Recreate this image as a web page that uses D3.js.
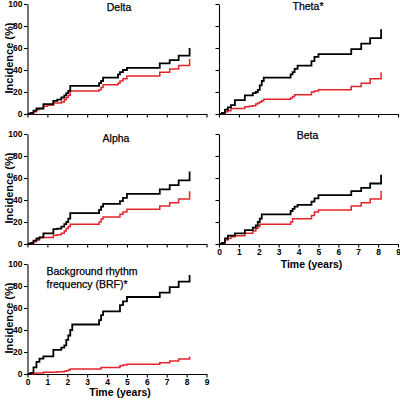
<!DOCTYPE html>
<html><head><meta charset="utf-8">
<script src="https://cdn.jsdelivr.net/npm/d3@7"></script>
<style>
html,body{margin:0;padding:0;background:#fff;}
svg{display:block;font-family:"Liberation Sans",Arial,sans-serif;}
</style></head>
<body>
<svg id="c" width="400" height="400"></svg>
<script>
// Shared event-time grid (years)
const times = [0, 0.15, 0.3, 0.45, 0.6, 0.8, 1.0, 1.3, 1.5, 1.7, 1.85, 1.95, 2.05, 2.15, 2.25, 3.6, 3.7, 3.8, 3.95, 4.55, 4.65, 4.8, 5.0, 6.65, 7.15, 7.6, 8.15];

// Cumulative incidence (%) — black and red groups
const deltaBlack = [0, 1, 3, 5, 5, 9, 9, 12, 13, 15, 17, 19, 21, 25.5, 25.5, 28, 30, 33, 33, 36, 38, 40, 42, 46, 49, 53, 60];
const deltaRed   = [0, 0.5, 2, 4, 5, 7, 8, 10, 10, 11, 13, 15, 17, 21, 21, 22, 24, 26.5, 26.5, 28, 30, 32, 34.5, 38, 41, 44, 50];
const thetaBlack = [0, 1, 4, 6, 8, 12.7, 12.7, 17, 17, 19, 20, 22, 26, 30, 33, 36, 38, 41, 44, 44, 48, 52, 54.5, 59, 64, 69, 77];
const thetaRed   = [0, 0.5, 2, 3, 5, 5, 5, 6.5, 7, 7.5, 9, 10, 11, 12, 13.3, 14.5, 16, 17.5, 17.5, 17.5, 20, 21, 22, 25, 28, 32, 38];
const alphaBlack = [0, 1, 3, 5, 6, 9.7, 9.7, 13.6, 14, 15.8, 18, 20, 23, 28, 28, 31, 34, 36.4, 36.4, 36.4, 39, 42, 45.5, 49.7, 53.6, 57.9, 65.8];
const alphaRed   = [0, 0.5, 2, 3.6, 5.8, 5.8, 5.8, 8, 8.5, 9.7, 11.8, 14, 16, 18, 18, 20, 22.7, 24.5, 24.5, 24.5, 27, 29, 31.5, 34.5, 37.6, 41, 48];
const betaBlack  = [0, 1, 5, 7.6, 7.6, 9.7, 9.7, 12.7, 12.7, 14.8, 17, 20, 23, 27, 27, 30, 32, 34, 35.5, 35.5, 38.5, 41.5, 44.5, 48, 51, 55, 63];
const betaRed    = [0, 0.5, 3.6, 5, 6.7, 7.6, 7.6, 9.7, 9.7, 11.8, 14, 16, 18, 18, 18, 20, 23, 23, 23, 23, 26, 29, 31, 34.5, 37.6, 41, 48.5];
const brfBlack   = [0, 1, 6, 11, 14, 16, 16, 22, 22, 24, 26, 31, 35, 40, 45, 49, 53.6, 57, 57, 57, 62.7, 66, 70, 74, 79, 84, 90];
const brfRed     = [0, 0, 0.5, 1, 1, 1.5, 1.5, 1.5, 2, 2, 2.5, 3, 3.6, 4.5, 4.5, 4.5, 5.8, 5.8, 5.8, 5.8, 7.6, 8.2, 8.8, 10.3, 11.8, 13.6, 16];

const yTicks = [0, 20, 40, 60, 80, 100];
const xTicks = [0, 1, 2, 3, 4, 5, 6, 7, 8, 9];
const titles = ["Delta", "Theta*", "Alpha", "Beta", ["Background rhythm", "frequency (BRF)*"]];
const yLabel = "Incidence (%)";
const xLabel = "Time (years)";

const panels = [
  {title: titles[0], black: deltaBlack, red: deltaRed, col: 0, row: 0, yLab: true, xLab: false, tx: 119, ty: 11},
  {title: titles[1], black: thetaBlack, red: thetaRed, col: 1, row: 0, yLab: false, xLab: false, tx: 308, ty: 9.5},
  {title: titles[2], black: alphaBlack, red: alphaRed, col: 0, row: 1, yLab: true, xLab: false, tx: 116, ty: 141.5},
  {title: titles[3], black: betaBlack, red: betaRed, col: 1, row: 1, yLab: false, xLab: true, xOff: 24, tx: 307.5, ty: 138.5},
  {title: titles[4], black: brfBlack, red: brfRed, col: 0, row: 2, yLab: true, xLab: true, xOff: 22, tx: 46.5, ty: 275}
];

const colX = [[27.5, 206.5], [219, 398]];
const rowY0 = [114, 244, 374];
const RED = "#e3242b";

const svg = d3.select("#c");

panels.forEach(p => {
  const x = d3.scaleLinear().domain([0, 9]).range(colX[p.col]);
  const y = d3.scaleLinear().domain([0, 100]).range([rowY0[p.row], rowY0[p.row] - 110]);
  const g = svg.append("g");

  const ya = d3.axisLeft(y).tickValues(yTicks).tickSize(3.5).tickSizeOuter(0).tickPadding(1.5)
    .tickFormat(p.yLab ? d3.format("d") : () => "");
  const yg = g.append("g").attr("transform", `translate(${x(0)},0)`).call(ya);

  const xa = d3.axisBottom(x).tickValues(xTicks).tickSize(3.5).tickSizeOuter(0).tickPadding(1.5)
    .tickFormat(p.xLab ? d3.format("d") : () => "");
  const xg = g.append("g").attr("transform", `translate(0,${y(0)})`).call(xa);

  [yg, xg].forEach(a => {
    a.selectAll("path.domain").attr("stroke", "#000").attr("stroke-width", 1.1);
    a.selectAll(".tick line").attr("stroke", "#000").attr("stroke-width", 1.1);
    a.selectAll(".tick text").attr("font-family", "Liberation Sans, Arial, sans-serif")
      .attr("font-size", 8.5).attr("font-weight", "bold").attr("fill", "#000");
  });

  const line = d3.line().x((d, i) => x(times[i])).y(d => y(d)).curve(d3.curveStepAfter);
  g.append("path").datum(p.red).attr("d", line).attr("fill", "none")
    .attr("stroke", RED).attr("stroke-width", 1.5);
  g.append("path").datum(p.black).attr("d", line).attr("fill", "none")
    .attr("stroke", "#000").attr("stroke-width", 1.8);

  if (Array.isArray(p.title)) {
    const t = g.append("text").attr("x", p.tx).attr("y", p.ty)
      .attr("font-size", 10.5).attr("fill", "#000").attr("stroke", "#000").attr("stroke-width", 0.25);
    p.title.forEach((s, i) => t.append("tspan").attr("x", p.tx).attr("dy", i ? 13.3 : 0).text(s));
  } else {
    g.append("text").attr("x", p.tx).attr("y", p.ty).attr("text-anchor", "middle")
      .attr("font-size", 10.5).attr("fill", "#000").attr("stroke", "#000").attr("stroke-width", 0.25)
      .text(p.title);
  }

  if (p.yLab) {
    const cy = rowY0[p.row] - 56;
    g.append("text").attr("transform", `translate(12.5,${cy}) rotate(-90)`)
      .attr("text-anchor", "middle").attr("font-size", 11).attr("font-weight", "bold")
      .attr("fill", "#000").text(yLabel);
  }
  if (p.xLab) {
    const cx = (colX[p.col][0] + colX[p.col][1]) / 2 + 3;
    g.append("text").attr("x", cx).attr("y", rowY0[p.row] + p.xOff)
      .attr("text-anchor", "middle").attr("font-size", 10.5).attr("font-weight", "bold")
      .attr("fill", "#000").text(xLabel);
  }
});
</script>
</body></html>
